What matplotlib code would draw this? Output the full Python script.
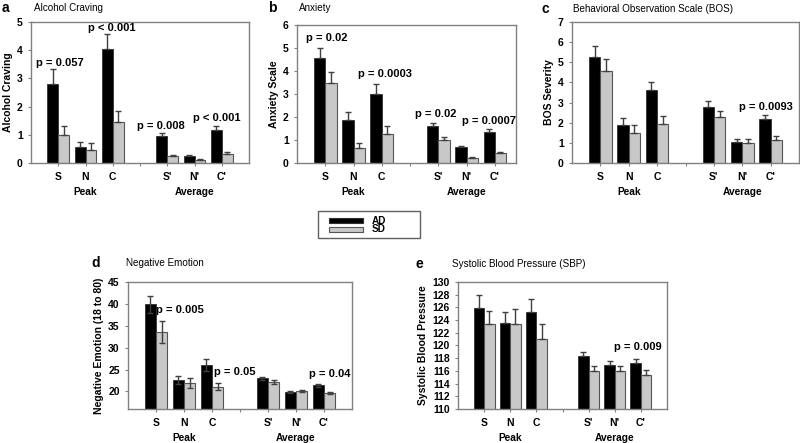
import matplotlib
matplotlib.use("Agg")
import matplotlib.pyplot as plt
from matplotlib.patches import Rectangle
import numpy as np

plt.rcParams['font.family'] = ['Liberation Sans', 'DejaVu Sans']

# category positions: peak S N C, gap, average S' N' C'
cats = ['S', 'N', 'C', '', "S'", "N'", "C'"]
pos = np.array([0, 1, 2, 4, 5, 6])

# Alcohol craving
crave_ad = [2.8, 0.56, 4.03, 0.95, 0.24, 1.16]
crave_ad_err = [0.52, 0.17, 0.53, 0.11, 0.04, 0.16]
crave_sd = [1.0, 0.46, 1.47, 0.24, 0.12, 0.32]
crave_sd_err = [0.32, 0.25, 0.36, 0.04, 0.02, 0.06]

# Anxiety
anx_ad = [4.58, 1.88, 3.0, 1.6, 0.69, 1.34]
anx_ad_err = [0.42, 0.34, 0.43, 0.15, 0.07, 0.12]
anx_sd = [3.49, 0.64, 1.28, 1.0, 0.22, 0.44]
anx_sd_err = [0.48, 0.24, 0.31, 0.12, 0.03, 0.04]

# BOS
bos_ad = [5.27, 1.9, 3.61, 2.77, 1.06, 2.17]
bos_ad_err = [0.56, 0.33, 0.39, 0.3, 0.15, 0.23]
bos_sd = [4.55, 1.49, 1.92, 2.29, 1.0, 1.14]
bos_sd_err = [0.62, 0.4, 0.4, 0.3, 0.18, 0.19]

# Negative emotion
neg_ad = [39.9, 22.6, 26.06, 23.0, 19.85, 21.4]
neg_ad_err = [1.9, 1.0, 1.35, 0.4, 0.15, 0.3]
neg_sd = [33.6, 21.9, 21.1, 22.1, 20.15, 19.6]
neg_sd_err = [2.5, 1.1, 0.8, 0.5, 0.25, 0.25]

# Systolic blood pressure
sbp_ad = [125.9, 123.5, 125.3, 118.3, 116.9, 117.2]
sbp_ad_err = [2.0, 1.7, 2.1, 0.6, 0.6, 0.6]
sbp_sd = [123.4, 123.4, 121.1, 116.0, 116.0, 115.3]
sbp_sd_err = [2.0, 2.3, 2.3, 0.7, 0.7, 0.8]

W, H = 800, 443
fig = plt.figure(figsize=(8, 4.43), dpi=100)

def px_axes(x0, y0, x1, y1):
    return fig.add_axes([x0 / W, 1 - y1 / H, (x1 - x0) / W, (y1 - y0) / H])

def panel(ax, ad, ad_err, sd, sd_err, ylim, yticks, xlim, ylabel, letter, title,
          ptexts, both_err=False, letter_x=0, title_x=0, top_y=8):
    w = 0.4
    lo_ad = ad_err if both_err else [0] * len(ad_err)
    lo_sd = sd_err if both_err else [0] * len(sd_err)
    ax.bar(pos - w / 2, ad, w, color='black', edgecolor='#303030', linewidth=0.6,
           yerr=[lo_ad, ad_err], error_kw=dict(ecolor='#404040', elinewidth=1.0, capsize=2, capthick=1.0))
    ax.bar(pos + w / 2, sd, w, color='#c8c8c8', edgecolor='#555555', linewidth=0.8,
           yerr=[lo_sd, sd_err], error_kw=dict(ecolor='#404040', elinewidth=1.0, capsize=2, capthick=1.0))
    ax.set_ylim(*ylim)
    ax.set_yticks(yticks)
    ax.set_xlim(*xlim)
    ax.set_xticks(range(7))
    ax.set_xticklabels(cats)
    for s in ax.spines.values():
        s.set_color('#808080')
        s.set_linewidth(1.0)
    ax.tick_params(axis='both', direction='out', length=2.5, width=0.8, color='#808080',
                   labelsize=7.5)
    ax.tick_params(axis='x', pad=4)
    for lab in ax.get_xticklabels() + ax.get_yticklabels():
        lab.set_fontweight('bold')
    ax.set_ylabel(ylabel, fontsize=7.5, fontweight='bold', labelpad=3)
    # group labels under the categories
    for x, t in [(1, 'Peak'), (5, 'Average')]:
        ax.annotate(t, xy=(x, 0), xycoords=('data', 'axes fraction'), xytext=(0, -17),
                    textcoords='offset points', ha='center', va='top', fontsize=7.3,
                    fontweight='bold')
    for x, y, t in ptexts:
        ax.text(x, y, t, ha='center', va='center', fontsize=8, fontweight='bold')
    fig.text(letter_x / W, 1 - top_y / H, letter, fontsize=10, fontweight='bold', va='center')
    fig.text(title_x / W, 1 - top_y / H, title, fontsize=7.1, va='center')

ax_a = px_axes(31, 22, 249, 163)
panel(ax_a, crave_ad, crave_ad_err, crave_sd, crave_sd_err, (0, 5), range(0, 6), (-1, 7),
      'Alcohol Craving', 'a', 'Alcohol Craving',
      [(0.05, 3.55, 'p = 0.057'), (1.97, 4.79, 'p < 0.001'), (3.77, 1.32, 'p = 0.008'),
       (5.83, 1.6, 'p < 0.001')],
      letter_x=2, title_x=34, top_y=8)

ax_b = px_axes(297, 25, 516, 163)
panel(ax_b, anx_ad, anx_ad_err, anx_sd, anx_sd_err, (0, 6), range(0, 7), (-1, 6.75),
      'Anxiety Scale', 'b', 'Anxiety',
      [(0.06, 5.43, 'p = 0.02'), (2.1, 3.85, 'p = 0.0003'), (3.9, 2.12, 'p = 0.02'),
       (5.8, 1.82, 'p = 0.0007')],
      letter_x=268, title_x=299, top_y=8)

ax_c = px_axes(572, 22, 799, 163)
panel(ax_c, bos_ad, bos_ad_err, bos_sd, bos_sd_err, (0, 7), range(0, 8), (-1, 7),
      'BOS Severity', 'c', 'Behavioral Observation Scale (BOS)',
      [(5.85, 2.8, 'p = 0.0093')],
      letter_x=541, title_x=573, top_y=9)

ax_d = px_axes(128, 282, 352, 409)
panel(ax_d, neg_ad, neg_ad_err, neg_sd, neg_sd_err, (16, 45), range(20, 46, 5), (-1, 7),
      'Negative Emotion (18 to 80)', 'd', 'Negative Emotion',
      [(0.84, 38.5, 'p = 0.005'), (2.82, 24.5, 'p = 0.05'), (6.2, 23.9, 'p = 0.04')],
      both_err=True, letter_x=91, title_x=126, top_y=263)

ax_e = px_axes(458, 282, 667, 409)
panel(ax_e, sbp_ad, sbp_ad_err, sbp_sd, sbp_sd_err, (110, 130), range(110, 131, 2), (-1, 7),
      'Systolic Blood Pressure', 'e', 'Systolic Blood Pressure (SBP)',
      [(5.9, 119.8, 'p = 0.009')],
      letter_x=416, title_x=452, top_y=264)

# legend box drawn by hand (Excel-style, wide right padding)
def fx(x):
    return x / W

def fy(y):
    return 1 - y / H

fig.patches.append(Rectangle((fx(318), fy(238)), fx(102), 27 / H, transform=fig.transFigure,
                             facecolor='white', edgecolor='#606060', linewidth=1.0, zorder=1))
for yc, fc, ec, lab in [(220.5, 'black', '#303030', 'AD'), (229.5, '#c8c8c8', '#555555', 'SD')]:
    fig.patches.append(Rectangle((fx(329), fy(yc + 2.5)), fx(34), 5 / H, transform=fig.transFigure,
                                 facecolor=fc, edgecolor=ec, linewidth=0.8, zorder=2))
    fig.text(fx(372), fy(yc), lab, fontsize=7.2, fontweight='bold', va='center', zorder=5)

fig.savefig('out.png', dpi=100)
